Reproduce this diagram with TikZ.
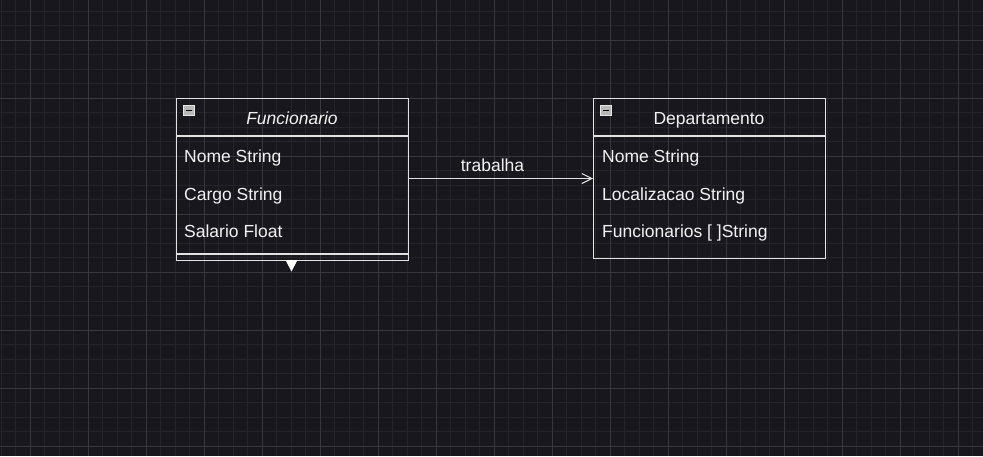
\documentclass[tikz,border=0pt]{standalone}
\usepackage{fontspec}
\setmainfont{Liberation Sans}
\usetikzlibrary{arrows.meta}
\definecolor{bg}{HTML}{18171E}
\definecolor{gridminor}{HTML}{25242B}
\definecolor{gridmajor}{HTML}{38373E}
\definecolor{linecol}{HTML}{E2E2E2}
\definecolor{txt}{HTML}{F2F2F2}
\definecolor{iconfill}{HTML}{B8B8B8}
\definecolor{iconedge}{HTML}{E6E6E6}
\tikzset{
  minorline/.style={draw=gridminor, line width=0.8pt},
  majorline/.style={draw=gridmajor, line width=0.9pt},
  classbox/.style={draw=linecol, line width=1.2pt, rectangle, inner sep=0pt, anchor=north west},
  sepline/.style={draw=linecol, line width=1.2pt},
  attr/.style={text=txt, font=\fontsize{17.5}{21}\selectfont, inner sep=0pt, anchor=base west},
  title/.style={text=txt, font=\fontsize{17.5}{21}\selectfont, inner sep=0pt, anchor=base},
  iconbox/.style={draw=iconedge, fill=iconfill, line width=0.8pt, minimum width=11pt, minimum height=10pt, inner sep=0pt, anchor=north west},
  assoc/.style={draw=linecol, line width=1.1pt, -{Straight Barb[length=10pt,width=10pt,line width=1.1pt]}},
}
\begin{document}
\begin{tikzpicture}[x=1pt,y=-1pt]
\useasboundingbox (0,0) rectangle (983,456);
\fill[bg] (0,0) rectangle (983,456);
% grid
\foreach \i in {0,...,67} \draw[minorline] ({1+14.5*\i},0) -- ({1+14.5*\i},456);
\foreach \i in {0,...,31} \draw[minorline] (0,{11+14.5*\i}) -- (983,{11+14.5*\i});
\foreach \i in {0,...,16} \draw[majorline] ({30+58*\i},0) -- ({30+58*\i},456);
\foreach \i in {0,...,7} \draw[majorline] (0,{40+58*\i}) -- (983,{40+58*\i});

% Funcionario class
\node[classbox, minimum width=232pt, minimum height=162pt] (fun) at (176,98) {};
\draw[sepline] (176,136) -- (408,136);
\draw[sepline] (176,254) -- (408,254);
\node[iconbox] (funicon) at (183,105) {};
\draw[black, line width=1.6pt] ([xshift=2.5pt]funicon.west) -- ([xshift=-2.5pt]funicon.east);
\node[title, font=\fontsize{17.5}{21}\selectfont\itshape] (funtitle) at (292,124) {Funcionario};
\node[attr] (f1) at (184,162) {Nome String};
\node[attr] (f2) at (184,200) {Cargo String};
\node[attr] (f3) at (184,237) {Salario Float};
\fill[white] (285.5,260) -- (297.5,260) -- (291.5,271.5) -- cycle;

% Departamento class
\node[classbox, minimum width=232pt, minimum height=160pt] (dep) at (593,98) {};
\draw[sepline] (593,136) -- (825,136);
\node[iconbox] (depicon) at (600,105) {};
\draw[black, line width=1.6pt] ([xshift=2.5pt]depicon.west) -- ([xshift=-2.5pt]depicon.east);
\node[title] (deptitle) at (709,124) {Departamento};
\node[attr] (d1) at (602,162) {Nome String};
\node[attr] (d2) at (602,200) {Localizacao String};
\node[attr] (d3) at (602,237) {Funcionarios [ ]String};

% association
\coordinate (a1) at (408,178.5);
\draw[assoc] (a1) -- (a1 -| dep.west) node[midway, title, yshift=7pt, xshift=-8pt] (lbl) {trabalha};
\end{tikzpicture}
\end{document}
